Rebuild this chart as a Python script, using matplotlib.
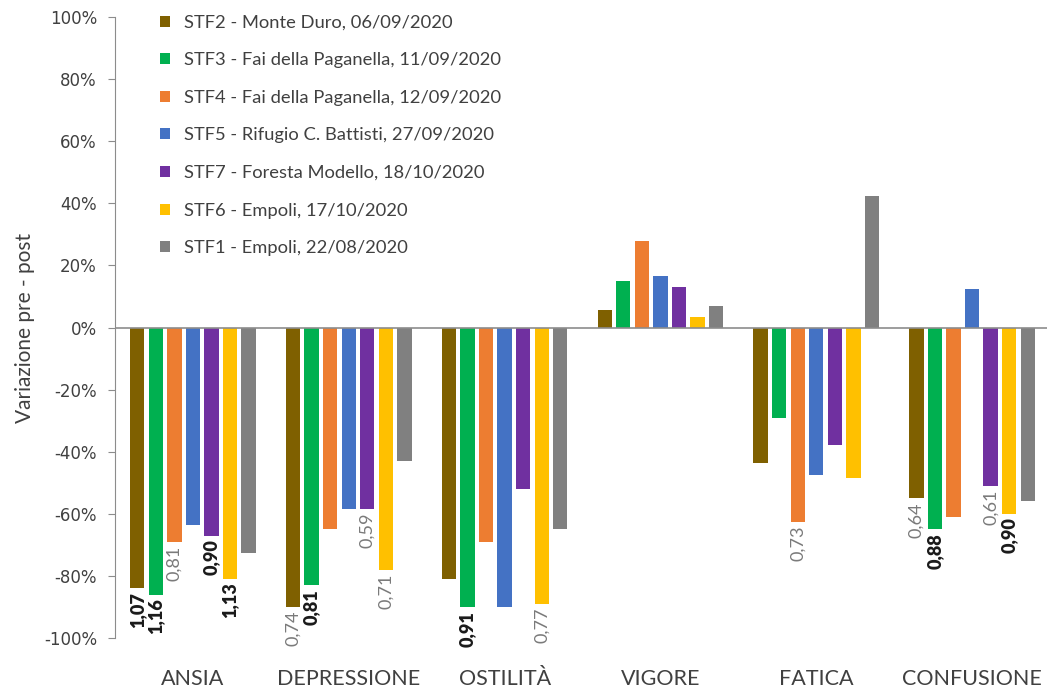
import numpy as np
import matplotlib
matplotlib.use("Agg")
import matplotlib.pyplot as plt
from matplotlib.ticker import FuncFormatter

plt.rcParams['font.family'] = ['Lato', 'DejaVu Sans']

categories = ["ANSIA", "DEPRESSIONE", "OSTILITÀ", "VIGORE", "FATICA", "CONFUSIONE"]
series = [
    "STF2 - Monte Duro, 06/09/2020",
    "STF3 - Fai della Paganella, 11/09/2020",
    "STF4 - Fai della Paganella, 12/09/2020",
    "STF5 - Rifugio C. Battisti, 27/09/2020",
    "STF7 - Foresta Modello, 18/10/2020",
    "STF6 - Empoli, 17/10/2020",
    "STF1 - Empoli, 22/08/2020",
]
colors = ["#7F6000", "#00B050", "#ED7D31", "#4472C4", "#7030A0", "#FFC000", "#808080"]

stf2 = [-0.84, -0.90, -0.81, 0.055, -0.435, -0.55]
stf3 = [-0.86, -0.83, -0.90, 0.15, -0.29, -0.65]
stf4 = [-0.69, -0.65, -0.69, 0.28, -0.625, -0.61]
stf5 = [-0.635, -0.585, -0.90, 0.165, -0.475, 0.125]
stf7 = [-0.67, -0.585, -0.52, 0.13, -0.38, -0.51]
stf6 = [-0.81, -0.78, -0.89, 0.033, -0.485, -0.60]
stf1 = [-0.725, -0.43, -0.65, 0.07, 0.425, -0.56]
values = [stf2, stf3, stf4, stf5, stf7, stf6, stf1]

# effect-size labels: (series index, category index, text, bold)
labels = [
    (0, 0, "1,07", True), (1, 0, "1,16", True), (2, 0, "0,81", False),
    (4, 0, "0,90", True), (5, 0, "1,13", True),
    (0, 1, "0,74", False), (1, 1, "0,81", True), (4, 1, "0,59", False),
    (5, 1, "0,71", False),
    (1, 2, "0,91", True), (5, 2, "0,77", False),
    (2, 4, "0,73", False),
    (0, 5, "0,64", False), (1, 5, "0,88", True), (4, 5, "0,61", False),
    (5, 5, "0,90", True),
]

fig = plt.figure(figsize=(10.47, 6.88), dpi=100)
ax = fig.add_axes([115 / 1047, 1 - 638 / 688, 935 / 1047, 621 / 688])

x = np.arange(len(categories))
step = 0.119
width = 0.092
for i, (name, col, vals) in enumerate(zip(series, colors, values)):
    ax.bar(x + (i - 3) * step, vals, width, color=col, label=name, zorder=2)

for si, ci, txt, bold in labels:
    v = values[si][ci]
    ax.text(x[ci] + (si - 3) * step, v - 0.012, txt, rotation=90,
            ha="center", va="top", fontsize=13,
            fontweight="heavy" if bold else "normal",
            color="#1a1a1a" if bold else "#7a7a7a", clip_on=False)

ax.axhline(0, color="#8c8c8c", lw=1.2, zorder=3)
ax.set_xlim(-0.5, 5.5)
ax.set_ylim(-1, 1)
ax.set_yticks(np.arange(-1, 1.01, 0.2))
ax.yaxis.set_major_formatter(FuncFormatter(lambda v, p: f"{round(v * 100):d}%"))
ax.set_xticks(x)
ax.set_xticklabels(categories, fontsize=15.5, color="#404040")
ax.tick_params(axis="x", length=0, pad=22)
ax.tick_params(axis="y", labelsize=12, labelcolor="#404040", color="#8c8c8c",
               length=5, direction="out", pad=8)
for lab in ax.get_yticklabels():
    lab.set_fontfamily("DejaVu Sans")
for s in ["top", "right", "bottom"]:
    ax.spines[s].set_visible(False)
ax.spines["left"].set_color("#8c8c8c")
ax.set_ylabel("Variazione pre - post", fontsize=15, color="#404040", labelpad=6)

ax.legend(loc="upper left", bbox_to_anchor=(0.048, 1.004), frameon=False,
          fontsize=13.2, handlelength=0.55, handleheight=0.55, labelspacing=1.18,
          handletextpad=0.75, borderpad=0, borderaxespad=0,
          labelcolor="#404040")

fig.savefig("out.png", dpi=100)
